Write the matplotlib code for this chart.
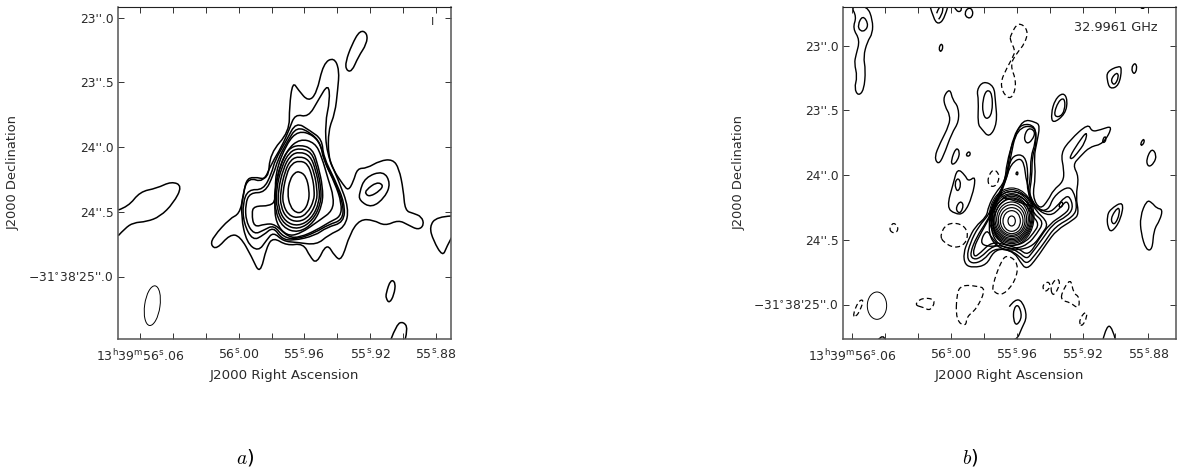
import numpy as np
import matplotlib
matplotlib.use("Agg")
import matplotlib.pyplot as plt
from matplotlib.path import Path
from matplotlib.patches import PathPatch, Ellipse

# map pixels for both panels (y runs downward like the image)
# panel a contours
a_outer = [(632,735),(640,710),(690,655),(718,642),(730,590),(738,540),(760,530),(805,540),(810,460),(868,395),
           (868,320),(878,245),(895,270),(925,305),(950,280),(970,190),(1002,172),(1018,210),(1013,270),(1005,340),
           (985,390),(985,470),(1000,510),(1030,555),(1045,572),(1060,545),(1072,505),(1100,505),(1140,482),(1178,478),
           (1197,505),(1210,570),(1215,632),(1240,640),(1265,650),(1272,675),(1255,690),(1225,675),(1195,660),(1155,678),
           (1120,660),(1080,658),(1050,700),(1025,782),(1005,770),(980,728),(950,792),(930,770),(910,730),(860,737),
           (820,712),(800,740),(780,825),(755,770),(720,708),(690,703),(650,748)]
a_c2 = [(868,388),(885,342),(925,352),(955,300),(985,250),(990,300),(975,370),(980,460),(1015,540),(1047,625),
        (1035,682),(985,705),(950,735),(890,727),(850,724),(820,696),(800,720),(775,755),(740,728),(723,650),
        (728,580),(746,532),(790,548),(815,490),(845,440)]
a_c3 = [(888,366),(930,392),(966,418),(970,470),(1005,540),(1034,610),(1032,667),(980,682),(945,707),(880,722),
        (845,717),(820,680),(790,706),(758,722),(731,670),(728,610),(745,568),(790,570),(815,520),(825,480),(860,420)]
a_c3b = [(890,380),(932,398),(962,430),(970,480),(1005,545),(1030,612),(1028,660),(985,674),(945,698),(890,718),
         (850,712),(822,675),(792,690),(762,704),(738,665),(736,612),(750,578),(795,578),(820,525),(835,475),(862,425)]
a_c4 = [(895,392),(940,405),(965,440),(975,490),(1005,550),(1025,610),(1022,650),(990,665),(950,690),(900,712),
        (865,712),(825,672),(795,672),(762,682),(755,640),(762,618),(810,618),(828,600),(825,520),(860,430)]
a_c5 = [(900,416),(945,428),(965,470),(985,540),(1001,590),(998,632),(960,660),(900,702),(860,708),(828,670),
        (823,610),(830,530),(860,450)]
a_r1 = [(898,434),(938,446),(955,500),(968,560),(968,612),(942,668),(895,699),(848,683),(825,632),(823,570),(840,495),(865,446)]
a_r2 = [(898,444),(935,456),(951,505),(963,560),(963,610),(938,662),(895,689),(852,674),(830,628),(828,570),(845,500),(868,456)]
a_r3 = [(898,455),(931,467),(947,510),(958,562),(958,608),(934,657),(895,679),(856,666),(835,624),(834,572),(850,505),(871,466)]
a_r4 = [(898,469),(927,479),(943,520),(951,565),(951,604),(928,650),(895,667),(861,656),(842,620),(841,575),(855,513),(873,478)]
a_r5 = [(898,482),(923,491),(937,530),(943,570),(942,602),(922,640),(895,655),(866,646),(849,614),(848,578),(860,520),(875,491)]
a_r6 = [(898,514),(918,528),(928,570),(926,607),(910,635),(890,640),(870,620),(862,578),(870,538),(884,518)]
a_left = [(355,630),(385,620),(420,575),(470,565),(515,544),(547,558),(520,610),(480,650),(440,665),(400,668),(375,685),(355,707)]
a_top = [(1037,185),(1055,135),(1080,90),(1102,100),(1100,132),(1075,170),(1055,216),(1038,210)]
a_mid1 = [(1078,578),(1095,532),(1150,512),(1172,550),(1155,592),(1115,624),(1078,602)]
a_mid2 = [(1098,570),(1130,546),(1150,555),(1140,572),(1110,590),(1096,582)]
a_low1 = [(1158,880),(1172,838),(1187,848),(1182,885),(1168,910),(1158,895)]
a_low2 = [(1172,1020),(1190,972),(1210,965),(1224,985),(1215,1020)]
a_right = [(1355,648),(1310,650),(1288,680),(1300,722),(1328,770),(1340,740),(1355,712)]
a_closed = [a_outer, a_c2, a_c3, a_c3b, a_c4, a_c5, a_r1, a_r2, a_r3, a_r4, a_r5, a_r6, a_top, a_mid1, a_mid2, a_low1]
a_open = [a_left, a_low2, a_right]

# panel b, solid contours
b_main1 = [(735,795),(730,760),(745,720),(765,680),(800,650),(805,620),(825,580),(855,545),(860,490),(880,420),
           (908,358),(947,366),(960,378),(950,430),(942,470),(947,530),(937,590),(960,630),(985,600),(1000,570),
           (1030,545),(1032,510),(1022,460),(1050,420),(1105,370),(1115,395),(1140,390),(1180,376),(1150,432),(1110,440),
           (1080,470),(1058,495),(1077,530),(1067,590),(1077,642),(1060,660),(1010,690),(980,730),(950,775),(920,810),
           (900,785),(885,760),(850,745),(820,755),(800,795),(760,803)]
b_main2 = [(890,385),(945,375),(950,430),(936,470),(936,530),(926,590),(950,630),(985,632),(1000,590),(1040,560),
           (1060,570),(1072,620),(1060,650),(1005,680),(975,725),(945,765),(920,794),(900,770),(870,750),(820,745),
           (790,782),(755,792),(740,772),(750,730),(775,680),(810,640),(830,590),(860,540),(870,480)]
b_main2b = [(880,410),(905,370),(948,378),(946,430),(932,470),(932,530),(922,585),(948,625),(880,600),(835,590),(860,530),(866,480)]
b_main3 = [(865,500),(880,465),(915,465),(925,520),(920,570),(945,620),(985,640),(1010,620),(1035,590),(1050,590),
           (1060,625),(1040,650),(1000,670),(965,720),(935,760),(920,778),(895,755),(860,740),(820,735),(780,775),
           (758,778),(750,760),(770,710),(800,665),(820,625),(845,570)]
b_main4 = [(872,490),(910,470),(920,555),(945,625),(990,650),(1020,625),(1040,600),(1050,625),(1030,645),(990,670),
           (955,720),(925,768),(895,745),(860,735),(815,725),(780,760),(762,772),(760,745),(785,695),(805,660),(830,610),(855,550)]
b_ring1 = [(875,570),(925,590),(945,630),(987,670),(965,702),(940,737),(900,750),(850,750),(815,725),(805,680),(815,620),(840,585)]
b_ring2 = [(875,580),(920,600),(940,640),(972,666),(950,702),(925,732),(890,746),(850,744),(820,715),(812,670),(822,625),(845,595)]
b_ring3 = [(875,590),(915,607),(935,645),(958,672),(940,700),(918,725),(885,738),(852,735),(826,708),(818,668),(828,628),(850,602)]
b_topleft1 = [(392,18),(410,50),(398,85),(420,120),(408,165),(403,190),(412,230),(403,265),(415,288),(432,270),
              (437,210),(430,170),(442,125),(458,100),(458,60),(442,18)]
b_topleft2 = [(413,75),(428,46),(445,70),(438,92),(420,94)]
b_top1 = [(630,18),(640,55),(655,74),(674,55),(684,18)]
b_top2 = [(650,40),(658,18),(670,18),(666,45),(656,58)]
b_top3 = [(702,18),(710,37),(727,32),(723,18)]
b_top5 = [(1258,18),(1268,33),(1277,18)]
b_top4 = [(733,40),(745,22),(759,30),(757,52),(742,55)]
b_tiny1 = [(656,147),(663,130),(670,140),(663,157)]
b_arm_l = [(670,290),(690,265),(698,300),(715,320),(717,365),(695,400),(670,470),(655,494),(643,472),(660,430),(688,375),(690,345),(675,320)]
b_s1 = [(693,482),(708,442),(720,455),(713,482),(697,496)]
b_s2 = [(738,463),(748,453),(752,465),(742,470)]
b_e1 = [(770,270),(790,243),(822,258),(826,300),(832,370),(808,414),(785,387),(773,372),(776,300)]
b_e2 = [(788,300),(800,268),(817,280),(817,340),(800,360),(788,340)]
b_f1 = [(993,342),(1005,298),(1030,277),(1043,300),(1036,342),(998,372)]
b_f2 = [(1000,347),(1015,303),(1034,293),(1035,330),(1020,352)]
b_g1 = [(1161,215),(1195,198),(1206,204),(1197,257),(1170,268),(1161,240)]
b_g2 = [(1171,240),(1190,216),(1197,230),(1183,258)]
b_h = [(1233,205),(1245,187),(1252,205),(1242,225)]
b_i = [(1261,432),(1270,416),(1274,425),(1265,438)]
b_j = [(1278,480),(1295,444),(1310,465),(1302,490),(1285,502)]
b_k1 = [(1161,650),(1170,628),(1212,602),(1202,660),(1175,698),(1163,682)]
b_k2 = [(1170,657),(1195,618),(1200,640),(1183,678)]
b_l = [(1260,650),(1280,600),(1296,608),(1310,625),(1328,628),(1320,660),(1301,690),(1297,750),(1278,750),(1263,700)]
b_m1 = [(680,622),(700,550),(712,505),(735,525),(745,545),(768,527),(757,590),(732,642),(705,642)]
b_m2 = [(703,550),(715,532),(724,555),(712,578)]
b_m3 = [(706,627),(720,602),(732,615),(720,643)]
b_n1 = [(868,920),(885,897),(907,903),(922,950),(905,985),(890,1022),(868,1022)]
b_n2 = [(881,925),(895,912),(907,950),(890,978),(880,960)]
b_o = [(1148,1022),(1160,975),(1177,983),(1187,1022)]
b_p = [(473,1022),(490,998),(497,1022)]
b_arm1 = [(911,412),(925,382),(947,395),(936,422),(920,432)]
b_arm2 = [(886,522),(893,513),(894,526)]
b_arm3 = [(1048,472),(1075,428),(1102,392),(1096,427),(1070,462),(1055,478)]
b_arm4 = [(1147,422),(1155,407),(1159,420),(1150,430)]
b_arm5 = [(1016,617),(1025,603),(1030,615),(1020,624)]
b_lobe = [(780,727),(800,687),(816,715),(838,737),(800,740)]
b_closed = [b_main1, b_main2, b_main2b, b_main3, b_main4, b_ring1, b_ring2, b_ring3, b_topleft1, b_topleft2, b_top4, b_tiny1,
            b_arm_l, b_s1, b_s2, b_e1, b_e2, b_f1, b_f2, b_g1, b_g2, b_h, b_i, b_j, b_k1, b_k2, b_l, b_m1, b_m2, b_m3,
            b_n2, b_arm1, b_arm2, b_arm3, b_arm4, b_arm5, b_lobe]
b_open = [b_top1, b_top2, b_top3, b_top5, b_n1, b_o, b_p]

# inner rings of panel b, close to elliptical
ring_x = [875, 875, 875, 875, 875, 875, 875, 875, 875, 875, 875]
ring_y = [663, 663, 662, 660, 658, 656, 654, 652, 651, 650, 650]
ring_w = [22, 52, 68, 80, 90, 100, 108, 116, 122, 128, 134]
ring_h = [30, 62, 78, 92, 104, 118, 130, 142, 152, 162, 172]

# negative contours
d_eight = [(872,105),(895,65),(925,90),(915,130),(890,160),(870,195),(890,245),(878,295),(855,290),(840,250),(860,205),(882,165),(885,150),(870,120)]
d_circle = [(802,535),(820,505),(840,525),(830,558),(808,560)]
d_small1 = [(506,690),(520,665),(537,685),(525,702)]
d_oval = [(660,705),(680,670),(722,670),(745,695),(737,732),(705,745),(670,727)]
d_low = [(816,860),(845,778),(865,765),(895,790),(887,842),(850,886),(822,878)]
d_lowl = [(710,880),(725,855),(770,858),(798,866),(770,927),(740,950),(738,980),(708,962)]
d_mid = [(583,915),(605,893),(648,898),(632,933),(610,922)]
d_g1 = [(966,857),(985,843),(992,860),(975,878)]
d_g2 = [(990,862),(1010,832),(1022,850),(1000,892)]
d_g3 = [(1023,882),(1052,832),(1060,880),(1078,890),(1077,928),(1050,907),(1026,902)]
d_g4 = [(1076,962),(1097,932),(1102,950),(1085,982)]
d_g5 = [(398,947),(415,903),(432,898),(420,932),(408,950)]
dashed = [d_eight, d_circle, d_small1, d_oval, d_low, d_lowl, d_mid, d_g1, d_g2, d_g3, d_g4, d_g5]

# ticks: right ascension seconds and declination arcsec
ra_major = [56.06, 56.00, 55.96, 55.92, 55.88]
ra_minor = [56.04, 56.02, 55.98, 55.94, 55.90]
ra_labels = ["13$^{\\rm h}$39$^{\\rm m}$56$^{\\rm s}$.06", "56$^{\\rm s}$.00", "55$^{\\rm s}$.96", "55$^{\\rm s}$.92", "55$^{\\rm s}$.88"]
dec_major = [23.0, 23.5, 24.0, 24.5, 25.0]
dec_labels = ["23''.0", "23''.5", "24''.0", "24''.5", "\u221231$^{\\circ}$38'25''.0"]

plt.rcParams['font.family'] = 'DejaVu Sans'
plt.rcParams['mathtext.fontset'] = 'dejavusans'
plt.rcParams['mathtext.default'] = 'regular'
tcol = '#2a2a2a'


def smooth(pts, closed=True):
    p = np.array(pts, dtype=float)
    verts = []
    codes = []
    if closed:
        start = (p[-1] + p[0]) / 2
        verts.append(start)
        codes.append(Path.MOVETO)
        for i in range(len(p)):
            nxt = p[(i + 1) % len(p)]
            verts += [p[i], (p[i] + nxt) / 2]
            codes += [Path.CURVE3, Path.CURVE3]
    else:
        verts.append(p[0])
        codes.append(Path.MOVETO)
        for i in range(1, len(p) - 1):
            end = (p[i] + p[i + 1]) / 2 if i < len(p) - 2 else p[-1]
            verts += [p[i], end]
            codes += [Path.CURVE3, Path.CURVE3]
    return Path(verts, codes)


def draw(ax, pts, closed=True, lw=1.1, ls='-'):
    ax.add_patch(PathPatch(smooth(pts, closed), fc='none', ec='black', lw=lw, ls=ls))


def setup(ax, x56, xlim, y23, ylab_x):
    # x56 = map pixel of 56.06s, y23 = map pixel of 23''.0
    ax.set_xlim(xlim)
    ax.set_ylim(1017, 22)
    xscale = 888 / 0.18
    yscale = 389
    ax.set_xticks([x56 + (56.06 - r) * xscale for r in ra_major])
    ax.set_xticklabels(ra_labels, fontsize=9, color=tcol)
    ax.set_xticks([x56 + (56.06 - r) * xscale for r in ra_minor], minor=True)
    ax.set_yticks([y23 + (d - 23.0) * yscale for d in dec_major])
    ax.set_yticklabels(dec_labels, fontsize=8.8, color=tcol)
    ax.tick_params(which='both', direction='in', top=True, right=True, length=4.4, width=0.7, color='#333333')
    ax.tick_params(axis='x', which='both', pad=6.5)
    ax.tick_params(axis='y', pad=3.5)
    ax.set_xlabel("J2000 Right Ascension", fontsize=9.6, color=tcol, labelpad=4)
    for s in ['left', 'bottom', 'right']:
        ax.spines[s].set_linewidth(1.1)
        ax.spines[s].set_color('#555555')
    ax.spines['top'].set_linewidth(0.8)
    ax.spines['top'].set_color('#222222')
    fig.text(ylab_x / 1182, 1 - 172 / 468, "J2000 Declination", rotation=90, fontsize=9.4, color=tcol, ha='center', va='center')


W, H = 1182, 468
fig = plt.figure(figsize=(W / 100, H / 100), dpi=100)
ax1 = fig.add_axes([118.3 / W, 1 - 339 / H, 332.4 / W, 331.7 / H])
ax2 = fig.add_axes([843.3 / W, 1 - 339 / H, 332.4 / W, 331.7 / H])

setup(ax1, 420, (355, 1352), 53, 13.5)
setup(ax2, 397, (370, 1367), 137, 739)

for c in a_closed:
    draw(ax1, c)
for c in a_open:
    draw(ax1, c, closed=False)
ax1.add_patch(Ellipse((457, 917), 46, 120, angle=8, fc='none', ec='black', lw=0.7))
ax1.text(1297, 66, "I", fontsize=8, color=tcol, ha='center', va='center')

for c in b_closed:
    draw(ax2, c, lw=1.0)
for c in b_open:
    draw(ax2, c, closed=False, lw=1.0)
for x, y, w, h in zip(ring_x, ring_y, ring_w, ring_h):
    ax2.add_patch(Ellipse((x, y), w, h, fc='none', ec='black', lw=0.85))
for c in dashed:
    draw(ax2, c, lw=0.9, ls=(0, (4, 2.5)))
ax2.add_patch(Ellipse((471, 917), 58, 82, fc='none', ec='black', lw=0.7))
ax2.text(1188, 82, "32.9961 GHz", fontsize=9.3, color=tcol, ha='center', va='center')

fig.text(245 / W, 1 - 457 / H, r"$\mathit{a})$", fontsize=14, math_fontfamily='cm', ha='center', va='center', color='black')
fig.text(970 / W, 1 - 457 / H, r"$\mathit{b})$", fontsize=14, math_fontfamily='cm', ha='center', va='center', color='black')

fig.savefig("out.png", dpi=100)
